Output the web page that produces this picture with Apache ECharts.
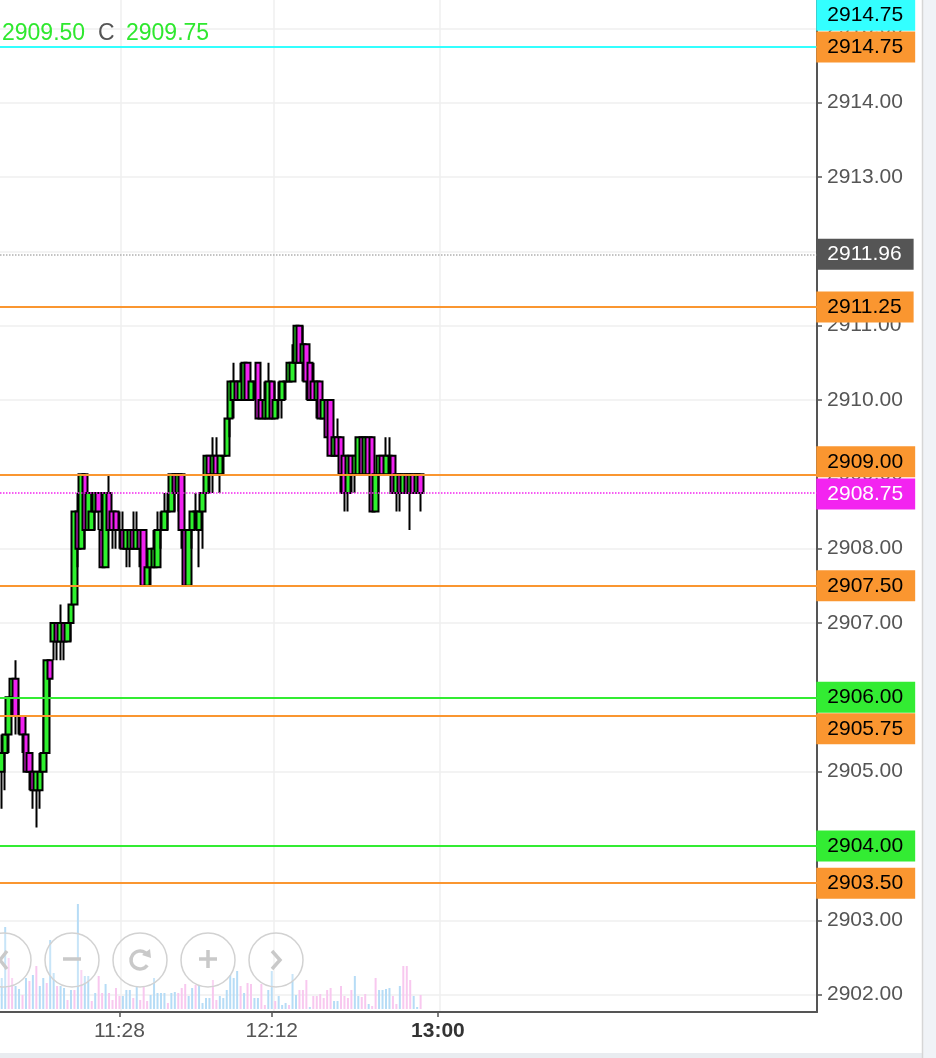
<!DOCTYPE html>
<html lang="en" style="height: 100%">

<head>
    <meta charset="utf-8">
    <script type="text/javascript" src="https://cdn.jsdelivr.net/npm/echarts@6/dist/echarts.min.js"></script>
</head>

<body style="height: 100%; margin: 0; background: #fff">
    <div id="container" style="width: 936px; height: 1058px"></div>
    <script type="text/javascript">
        // 1-minute bars, first one is 10:54
        var opens = [
            2905.0, 2905.25, 2905.5, 2906.0, 2906.25, 2905.75, 2905.75, 2905.5, 2905.25, 2905.0,
            2904.75, 2904.75, 2905.0, 2905.25, 2906.5, 2906.75, 2907.0, 2906.75, 2907.0, 2906.75,
            2907.0, 2907.25, 2908.5, 2908.0, 2909.0, 2908.25, 2908.25, 2908.5, 2908.75, 2908.25,
            2907.75, 2908.75, 2908.5, 2908.5, 2908.25, 2908.25, 2908.0, 2908.0, 2908.25, 2908.0,
            2908.25, 2908.25, 2907.5, 2907.75, 2907.75, 2907.75, 2908.25, 2908.25, 2908.5, 2908.5,
            2909.0, 2908.75, 2909.0, 2908.25, 2907.5, 2908.25, 2908.5, 2908.25, 2908.5, 2908.75,
            2909.25, 2909.0, 2909.25, 2909.0, 2909.25, 2909.25, 2909.75, 2910.0, 2910.25, 2910.0,
            2910.0, 2910.5, 2910.0, 2910.25, 2910.5, 2910.0, 2909.75, 2909.75, 2910.25, 2909.75,
            2910.0, 2910.0, 2910.25, 2910.25, 2910.25, 2910.5, 2911.0, 2910.5, 2910.75, 2910.5,
            2910.25, 2910.0, 2910.25, 2909.75, 2910.0, 2910.0, 2909.25, 2909.5, 2909.5, 2909.25,
            2908.75, 2909.25, 2909.0, 2909.0, 2909.5, 2909.0, 2909.5, 2909.5, 2908.5, 2909.0,
            2909.25, 2909.0, 2909.25, 2909.25, 2908.75, 2909.0, 2908.75, 2909.0, 2908.75, 2909.0,
            2908.75, 2909.0
        ];
        var closes = [
            2905.25, 2905.5, 2906.0, 2906.25, 2905.75, 2905.75, 2905.5, 2905.0, 2905.0, 2904.75,
            2905.0, 2905.0, 2905.25, 2906.5, 2906.25, 2907.0, 2906.75, 2907.0, 2906.75, 2907.0,
            2907.25, 2908.5, 2908.0, 2909.0, 2908.25, 2908.75, 2908.5, 2908.75, 2908.5, 2907.75,
            2908.75, 2908.25, 2908.25, 2908.25, 2908.25, 2908.0, 2908.25, 2908.25, 2908.0, 2908.25,
            2908.0, 2907.5, 2907.75, 2908.0, 2908.0, 2908.25, 2908.25, 2908.5, 2908.5, 2909.0,
            2908.75, 2909.0, 2908.25, 2907.5, 2908.25, 2908.5, 2908.5, 2908.5, 2908.75, 2909.25,
            2909.0, 2909.25, 2909.0, 2909.25, 2909.25, 2909.75, 2910.25, 2910.25, 2910.0, 2910.25,
            2910.5, 2910.0, 2910.25, 2910.25, 2909.75, 2909.75, 2910.0, 2910.25, 2909.75, 2910.0,
            2910.0, 2910.25, 2910.25, 2910.5, 2910.5, 2911.0, 2910.5, 2910.75, 2910.25, 2910.0,
            2910.0, 2910.25, 2909.75, 2910.0, 2909.5, 2909.25, 2909.5, 2909.25, 2909.0, 2908.75,
            2909.25, 2909.0, 2909.25, 2909.5, 2909.0, 2909.5, 2909.0, 2908.5, 2909.0, 2909.25,
            2909.0, 2909.25, 2909.25, 2908.75, 2909.0, 2908.75, 2909.0, 2908.75, 2909.0, 2908.75,
            2909.0, 2908.75
        ];
        var lows = [
            2904.5, 2904.75, 2905.25, 2905.75, 2905.5, 2905.5, 2905.25, 2905.0, 2904.75, 2904.5,
            2904.25, 2904.5, 2905.0, 2905.25, 2906.0, 2906.5, 2906.5, 2906.5, 2906.5, 2906.75,
            2906.75, 2907.25, 2907.75, 2908.0, 2908.0, 2908.25, 2908.25, 2908.25, 2908.25, 2907.75,
            2907.75, 2908.25, 2908.0, 2908.0, 2908.0, 2908.0, 2907.75, 2907.75, 2908.0, 2908.0,
            2907.75, 2907.5, 2907.5, 2907.5, 2907.75, 2907.75, 2908.0, 2908.25, 2908.25, 2908.5,
            2908.5, 2908.5, 2908.0, 2907.5, 2907.5, 2908.0, 2908.25, 2907.75, 2908.0, 2908.75,
            2908.75, 2908.75, 2909.0, 2908.75, 2909.0, 2909.25, 2909.5, 2909.75, 2910.0, 2910.0,
            2910.0, 2910.0, 2910.0, 2910.0, 2909.75, 2909.75, 2909.75, 2909.75, 2909.75, 2909.75,
            2909.75, 2909.75, 2910.0, 2910.25, 2910.25, 2910.5, 2910.5, 2910.25, 2910.0, 2910.0,
            2910.0, 2909.75, 2909.75, 2909.75, 2909.5, 2909.25, 2909.25, 2909.25, 2908.75, 2908.5,
            2908.5, 2908.75, 2908.75, 2909.0, 2909.0, 2909.0, 2909.0, 2908.5, 2908.5, 2908.75,
            2909.0, 2909.0, 2909.0, 2908.75, 2908.5, 2908.5, 2908.75, 2908.75, 2908.25, 2908.75,
            2908.75, 2908.5
        ];
        var highs = [
            2905.5, 2905.5, 2906.0, 2906.25, 2906.5, 2906.0, 2905.75, 2905.5, 2905.25, 2905.0,
            2905.0, 2905.25, 2905.75, 2906.5, 2906.5, 2907.0, 2907.0, 2907.25, 2907.0, 2907.0,
            2907.25, 2908.5, 2908.75, 2909.0, 2909.0, 2908.75, 2908.75, 2908.75, 2908.75, 2908.5,
            2908.75, 2909.0, 2908.5, 2908.5, 2908.5, 2908.5, 2908.25, 2908.25, 2908.5, 2908.5,
            2908.25, 2908.25, 2907.75, 2908.0, 2908.25, 2908.5, 2908.5, 2908.75, 2908.75, 2909.0,
            2909.0, 2909.0, 2909.0, 2908.25, 2908.25, 2908.5, 2908.75, 2908.5, 2908.75, 2909.25,
            2909.25, 2909.5, 2909.5, 2909.25, 2909.25, 2909.75, 2910.25, 2910.5, 2910.25, 2910.5,
            2910.5, 2910.5, 2910.25, 2910.25, 2910.5, 2910.0, 2910.25, 2910.5, 2910.25, 2910.25,
            2910.25, 2910.25, 2910.25, 2910.5, 2910.75, 2911.0, 2911.0, 2911.0, 2910.75, 2910.5,
            2910.5, 2910.25, 2910.25, 2910.0, 2910.0, 2910.0, 2909.5, 2909.75, 2909.5, 2909.25,
            2909.25, 2909.25, 2909.25, 2909.5, 2909.5, 2909.5, 2909.5, 2909.5, 2909.0, 2909.25,
            2909.25, 2909.5, 2909.5, 2909.25, 2909.0, 2909.0, 2909.0, 2909.0, 2909.0, 2909.0,
            2909.0, 2909.0
        ];
        var volumes = [
            31, 82, 51, 31, 23, 20, 14, 31, 28, 34,
            43, 23, 31, 26, 69, 36, 23, 23, 21, 9,
            19, 19, 105, 39, 33, 33, 8, 16, 33, 16,
            25, 16, 9, 21, 13, 13, 19, 19, 11, 22,
            9, 23, 8, 14, 31, 16, 16, 16, 6, 16,
            17, 16, 21, 25, 13, 21, 24, 23, 6, 11,
            11, 29, 9, 13, 11, 19, 34, 31, 38, 23,
            16, 26, 25, 11, 11, 25, 4, 19, 38, 8,
            13, 4, 6, 4, 35, 14, 19, 19, 29, 2,
            13, 13, 15, 11, 19, 21, 8, 8, 23, 13,
            11, 19, 33, 13, 12, 15, 5, 3, 31, 19,
            19, 20, 21, 13, 5, 23, 43, 43, 29, 13,
            2, 14
        ];
        // 1 = traded at ask (blue), -1 = traded at bid (pink)
        var volSide = [
            1, 1, -1, -1, 1, 1, -1, 1, -1, 1,
            -1, 1, 1, -1, 1, 1, -1, 1, 1, -1,
            1, -1, 1, -1, 1, 1, -1, 1, -1, -1,
            1, -1, -1, -1, -1, 1, 1, 1, -1, 1,
            -1, -1, -1, 1, 1, 1, 1, 1, -1, 1,
            1, -1, -1, -1, 1, 1, -1, 1, 1, 1,
            1, -1, -1, 1, 1, 1, 1, 1, 1, -1,
            1, -1, -1, 1, 1, -1, -1, 1, 1, -1,
            1, 1, 1, -1, 1, 1, -1, -1, -1, 1,
            -1, -1, -1, -1, -1, -1, 1, 1, -1, -1,
            -1, -1, 1, 1, -1, -1, 1, -1, -1, 1,
            1, 1, 1, -1, -1, 1, -1, -1, -1, 1,
            1, -1
        ];

        var orangeLevels = [2914.75, 2911.25, 2909.00, 2907.50, 2905.75, 2903.50];
        var greenLevels = [2906.00, 2904.00];
        var cyanLevel = 2914.75;
        var dottedLevel = 2911.96;
        var lastPrice = 2908.75;
        var legendLow = '2909.50';
        var legendClose = '2909.75';

        var timeLabels = ['11:28', '12:12', '13:00'];
        var times = [];
        for (var i = 0; i < 236; i++) {
            var m = 10 * 60 + 54 + i;
            times.push(Math.floor(m / 60) + ':' + ('0' + (m % 60)).slice(-2));
        }

        var FONT = 'Liberation Sans, Arial, sans-serif';
        var ORANGE = '#fa9630', GREEN = '#33ec33', CYAN = '#33ffff', MAGENTA = '#f324f0';
        var yMin = 2914 - (1012 - 102.7) / 74.33;
        var yMax = 2914 + 102.7 / 74.33;
        var lastIdx = times.length - 1;

        var bars = opens.map(function (o, i) { return [o, closes[i], lows[i], highs[i]]; });

        var levelLines = [];
        orangeLevels.forEach(function (v) {
            levelLines.push({ yAxis: v, lineStyle: { color: ORANGE, width: 2, type: 'solid' } });
        });
        greenLevels.forEach(function (v) {
            levelLines.push({ yAxis: v, lineStyle: { color: GREEN, width: 2, type: 'solid' } });
        });
        levelLines.push({ yAxis: cyanLevel, lineStyle: { color: CYAN, width: 2, type: 'solid' } });
        levelLines.push({ yAxis: dottedLevel, lineStyle: { color: '#b0b0b0', width: 1.5, type: 'dotted' } });
        levelLines.push({ yAxis: lastPrice, lineStyle: { color: MAGENTA, width: 1.5, type: 'dotted' } });

        // price tags on the right scale; nudges keep stacked boxes from overlapping
        var nudge = { '2909': -12.5, '2905.75': 12.8 };
        function tag(v, bg, fg, dy) {
            return {
                value: [lastIdx, v],
                label: { backgroundColor: bg, color: fg, offset: [0, dy || 0] }
            };
        }
        var tags = [];
        orangeLevels.forEach(function (v) { tags.push(tag(v, ORANGE, '#000', nudge[String(v)])); });
        greenLevels.forEach(function (v) { tags.push(tag(v, GREEN, '#000')); });
        tags.push(tag(cyanLevel, CYAN, '#000', -31.6));
        tags.push(tag(dottedLevel, '#555555', '#fff'));
        tags.push(tag(lastPrice, MAGENTA, '#fff', 1));

        function showTime(idx, val) { return timeLabels.indexOf(val) >= 0; }
        var gridLineIdx = [35, 79, 127];

        var dom = document.getElementById('container');
        var chart = echarts.init(dom, null, { renderer: 'canvas' });

        // nav buttons overlay
        var btnY = 960, btnStroke = '#d2d2d2', iconColor = '#c9c9c9';
        var buttons = [4, 72, 140, 208, 276].map(function (cx) {
            return {
                type: 'circle', shape: { cx: cx, cy: btnY, r: 27 },
                style: { fill: 'rgba(255,255,255,0.25)', stroke: btnStroke, lineWidth: 1.5 }, z: 100
            };
        });
        var icons = [
            { type: 'polyline', shape: { points: [[7, 951], [0, 960], [7, 969]] } },
            { type: 'line', shape: { x1: 63, y1: 959, x2: 81, y2: 959 } },
            { type: 'arc', shape: { cx: 140, cy: 960, r: 9, startAngle: Math.PI * 0.2, endAngle: Math.PI * 1.75, clockwise: true } },
            { type: 'line', shape: { x1: 199, y1: 959, x2: 217, y2: 959 } },
            { type: 'line', shape: { x1: 208, y1: 950, x2: 208, y2: 968 } },
            { type: 'polyline', shape: { points: [[272, 951], [280, 960], [272, 969]] } }
        ].map(function (g) {
            g.style = { stroke: iconColor, lineWidth: 3.5, fill: null };
            g.z = 101;
            return g;
        });
        icons.push({
            type: 'polygon', shape: { points: [[150, 949], [151, 958], [142, 955]] },
            style: { fill: iconColor }, z: 101
        });

        var option = {
            animation: false,
            backgroundColor: '#fff',
            textStyle: { fontFamily: FONT },
            grid: [
                { left: 0, right: 119, top: 0, height: 1012 },
                { left: 0, right: 119, top: 880, bottom: 46 }
            ],
            xAxis: [
                {
                    type: 'category', gridIndex: 0, data: times, boundaryGap: true,
                    axisLine: { show: false }, axisTick: { show: false }, axisLabel: { show: false },
                    splitLine: {
                        show: true,
                        interval: function (idx) { return gridLineIdx.indexOf(idx) >= 0; },
                        lineStyle: { color: '#efefef', width: 1.5 }
                    }
                },
                {
                    type: 'category', gridIndex: 1, data: times, boundaryGap: true,
                    axisLine: { show: true, onZero: false, lineStyle: { color: '#555', width: 2 } },
                    axisTick: { show: true, alignWithLabel: true, interval: showTime, length: 5, lineStyle: { color: '#555', width: 1.5 } },
                    axisLabel: {
                        interval: showTime, margin: 9, fontSize: 21, color: '#555', fontFamily: FONT,
                        formatter: function (v) { return v === '13:00' ? '{b|' + v + '}' : v; },
                        rich: { b: { fontSize: 21, fontWeight: 'bold', color: '#333', fontFamily: FONT } }
                    },
                    splitLine: { show: false }
                }
            ],
            yAxis: [
                {
                    type: 'value', gridIndex: 0, position: 'right', min: yMin, max: yMax, splitNumber: 13,
                    axisLine: { show: true, lineStyle: { color: '#555', width: 2 } },
                    axisTick: { show: true, length: 5, lineStyle: { color: '#555', width: 1.5 } },
                    axisLabel: {
                        color: '#555', fontSize: 21, margin: 10, fontFamily: FONT,
                        showMinLabel: false, showMaxLabel: false,
                        formatter: function (v) { return v.toFixed(2); }
                    },
                    splitLine: { show: true, showMinLine: false, showMaxLine: false, lineStyle: { color: '#efefef', width: 1.5 } }
                },
                { type: 'value', gridIndex: 1, min: -3, max: 129, show: false }
            ],
            series: [
                {
                    name: 'volume', type: 'bar', xAxisIndex: 1, yAxisIndex: 1, barWidth: 2,
                    data: volumes.map(function (v, i) {
                        return { value: v, itemStyle: { color: volSide[i] > 0 ? '#b6dcf6' : '#f8c8ef' } };
                    })
                },
                {
                    name: 'price', type: 'candlestick', xAxisIndex: 0, yAxisIndex: 0, data: bars, barWidth: 6,
                    itemStyle: { color: '#2ef02e', color0: '#f022f0', borderColor: '#000', borderColor0: '#000', borderWidth: 2 },
                    markLine: { symbol: ['none', 'none'], silent: true, label: { show: false }, data: levelLines }
                },
                {
                    name: 'tags', type: 'scatter', xAxisIndex: 0, yAxisIndex: 0, symbolSize: 0, silent: true, z: 5,
                    data: tags,
                    itemStyle: { opacity: 1 },
                    label: {
                        show: true, position: 'right', distance: 1, fontSize: 21, lineHeight: 21, fontFamily: FONT,
                        padding: [5, 12, 5, 11], opacity: 1,
                        formatter: function (p) { return p.value[1].toFixed(2); }
                    }
                }
            ],
            graphic: [
                { type: 'rect', shape: { x: 922, y: 0, width: 14, height: 1058 }, style: { fill: '#f0f3f7' }, z: 90 },
                { type: 'line', shape: { x1: 922.5, y1: 0, x2: 922.5, y2: 1058 }, style: { stroke: '#d6d6d6', lineWidth: 1.5 }, z: 91 },
                { type: 'rect', shape: { x: 0, y: 1053, width: 922, height: 5 }, style: { fill: '#e9ecf0' }, z: 90 },
                { type: 'text', x: 2, y: 34, style: { text: legendLow, fill: '#2fe82f', font: '23px ' + FONT, verticalAlign: 'middle' }, z: 95 },
                { type: 'text', x: 98, y: 34, style: { text: 'C', fill: '#555', font: '23px ' + FONT, verticalAlign: 'middle' }, z: 95 },
                { type: 'text', x: 126, y: 34, style: { text: legendClose, fill: '#2fe82f', font: '23px ' + FONT, verticalAlign: 'middle' }, z: 95 }
            ].concat(buttons, icons)
        };
        chart.setOption(option);
        window.addEventListener('resize', chart.resize);
    </script>
</body>

</html>
